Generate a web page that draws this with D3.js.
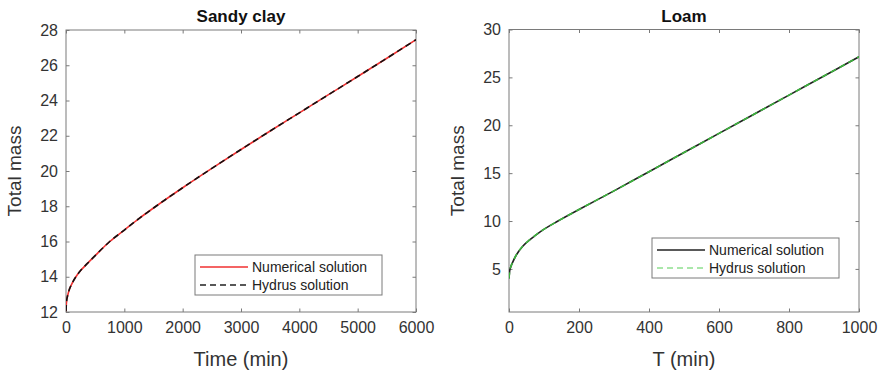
<!DOCTYPE html>
<html><head><meta charset="utf-8">
<script src="https://cdn.jsdelivr.net/npm/d3@7"></script>
<style>
body{margin:0;background:#fff;}
svg{display:block;font-family:"Liberation Sans",Arial,Helvetica,sans-serif;}
</style></head>
<body><svg id="c" width="879" height="375"></svg>
<script>
// Sandy clay panel
const sandyTime = [0,5,10,30,60,100,170,250,350,500,750,1000,1250,1500,2000,2500,3000,3500,4000,4500,5000,5500,6000];
const sandyMass = [12.05,12.4,12.6,12.95,13.3,13.6,14.0,14.35,14.7,15.2,16.0,16.65,17.3,17.9,19.05,20.15,21.22,22.27,23.3,24.33,25.36,26.4,27.45];
const sandyXTicks = [0,1000,2000,3000,4000,5000,6000];
const sandyYTicks = [12,14,16,18,20,22,24,26,28];
// Loam panel
const loamTime = [0,2,5,10,20,40,60,90,140,200,300,400,500,600,700,800,900,1000];
const loamMass = [4.0,4.8,5.2,5.65,6.4,7.4,8.05,8.9,10.0,11.2,13.15,15.15,17.15,19.15,21.15,23.15,25.15,27.15];
const loamXTicks = [0,200,400,600,800,1000];
const loamYTicks = [5,10,15,20,25,30];

const svg = d3.select("#c");
const axisCol = "#7a7a7a", textCol = "#333";

function panel(o){
  const g = svg.append("g");
  const x = d3.scaleLinear().domain(o.xDom).range([o.x0,o.x1]);
  const y = d3.scaleLinear().domain(o.yDom).range([o.y1,o.y0]);
  const tl = 3.5;
  const fmt = d3.format("d");
  const xa = d3.axisBottom(x).tickValues(o.xTicks).tickSizeInner(-tl).tickSizeOuter(0).tickPadding(10).tickFormat(fmt);
  const xt = d3.axisTop(x).tickValues(o.xTicks).tickSizeInner(-tl).tickSizeOuter(0).tickFormat("");
  const ya = d3.axisLeft(y).tickValues(o.yTicks).tickSizeInner(-tl).tickSizeOuter(0).tickPadding(8).tickFormat(fmt);
  const yr = d3.axisRight(y).tickValues(o.yTicks).tickSizeInner(-tl).tickSizeOuter(0).tickFormat("");
  const styl = s => { s.selectAll("path").remove(); s.selectAll("line").attr("stroke",axisCol);
    s.selectAll("text").attr("fill",textCol).style("font-size","16px").style("font-family","Liberation Sans, Arial, sans-serif"); };
  g.append("g").attr("transform",`translate(0,${o.y1})`).call(xa).call(styl);
  g.append("g").attr("transform",`translate(0,${o.y0})`).call(xt).call(styl);
  g.append("g").attr("transform",`translate(${o.x0},0)`).call(ya).call(styl);
  g.append("g").attr("transform",`translate(${o.x1},0)`).call(yr).call(styl);
  g.append("rect").attr("x",o.x0).attr("y",o.y0).attr("width",o.x1-o.x0).attr("height",o.y1-o.y0)
    .attr("fill","none").attr("stroke",axisCol).attr("stroke-width",1);
  const line = d3.line().x(d=>x(d[0])).y(d=>y(d[1])).curve(d3.curveMonotoneX);
  const pts = o.t.map((t,i)=>[t,o.v[i]]);
  const clip = "clip"+o.id;
  g.append("clipPath").attr("id",clip).append("rect").attr("x",o.x0).attr("y",o.y0).attr("width",o.x1-o.x0).attr("height",o.y1-o.y0);
  g.append("path").datum(pts).attr("d",line).attr("fill","none").attr("stroke",o.c1).attr("stroke-width",1.6).attr("clip-path",`url(#${clip})`);
  g.append("path").datum(pts).attr("d",line).attr("fill","none").attr("stroke",o.c2).attr("stroke-width",1.6)
    .attr("stroke-dasharray","6,4").attr("clip-path",`url(#${clip})`);
  g.append("text").attr("x",(o.x0+o.x1)/2).attr("y",22).attr("text-anchor","middle")
    .style("font-size","17px").style("font-weight","bold").attr("fill","#111").text(o.title);
  g.append("text").attr("x",(o.x0+o.x1)/2).attr("y",366).attr("text-anchor","middle")
    .style("font-size","20px").attr("fill",textCol).text(o.xLabel);
  g.append("text").attr("transform",`translate(${o.yLabX},${(o.y0+o.y1)/2}) rotate(-90)`).attr("text-anchor","middle")
    .style("font-size","19px").attr("fill",textCol).text("Total mass");
  const L = o.leg;
  g.append("rect").attr("x",L.x).attr("y",L.y).attr("width",L.w).attr("height",L.h)
    .attr("fill","#fff").attr("stroke",axisCol).attr("stroke-width",1);
  const items = [{n:"Numerical solution",c:o.c1,d:null},{n:"Hydrus solution",c:o.c2leg,d:"6,4"}];
  items.forEach((it,i)=>{
    const yy = L.y + 12 + i*18;
    g.append("line").attr("x1",L.x+5).attr("x2",L.x+53).attr("y1",yy).attr("y2",yy)
      .attr("stroke",it.c).attr("stroke-width",1.6).attr("stroke-dasharray",it.d);
    g.append("text").attr("x",L.x+57).attr("y",yy+5).style("font-size","14px").attr("fill","#222").text(it.n);
  });
}

panel({id:"a",x0:66,x1:416,y0:30,y1:312,xDom:[0,6000],yDom:[12,28],xTicks:sandyXTicks,yTicks:sandyYTicks,
  t:sandyTime,v:sandyMass,c1:"#f03030",c2:"#111",c2leg:"#222",title:"Sandy clay",xLabel:"Time (min)",yLabX:21,
  leg:{x:195,y:255,w:187,h:40}});
panel({id:"b",x0:509,x1:859,y0:29.5,y1:312,xDom:[0,1000],yDom:[0.5,30],xTicks:loamXTicks,yTicks:loamYTicks,
  t:loamTime,v:loamMass,c1:"#222",c2:"#3cb43c",c2leg:"#8fdf8f",title:"Loam",xLabel:"T (min)",yLabX:464,
  leg:{x:652,y:238,w:187,h:40}});
</script></body></html>
